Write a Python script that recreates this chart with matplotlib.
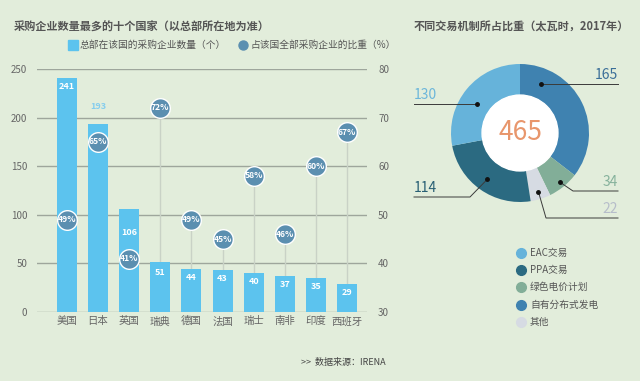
import matplotlib
matplotlib.use("Agg")
import matplotlib.pyplot as plt
from matplotlib.lines import Line2D
import numpy as np

plt.rcParams['font.family'] = ['Noto Sans CJK SC', 'DejaVu Sans']

# ---------------- data ----------------
countries = ['美国', '日本', '英国', '瑞典', '德国', '法国', '瑞士', '南非', '印度', '西班牙']
counts = [241, 193, 106, 51, 44, 43, 40, 37, 35, 29]
shares = [49, 65, 41, 72, 49, 45, 58, 46, 60, 67]
left_ticks = [0, 50, 100, 150, 200, 250]
right_ticks = [30, 40, 50, 60, 70, 80]

mech_names = ['自有分布式发电', '绿色电价计划', '其他', 'PPA交易', 'EAC交易']
mech_values = [165, 34, 22, 114, 130]
legend_order = ['EAC交易', 'PPA交易', '绿色电价计划', '自有分布式发电', '其他']

# ---------------- style ----------------
BG = '#e2eddb'
BAR = '#5cc3ee'
DOT = '#5b8fb0'
GRID = '#9ea69c'
TXT = '#555555'
mech_colors = {'自有分布式发电': '#3f82b0', '绿色电价计划': '#82ae98', '其他': '#d6dbe3',
               'PPA交易': '#2b6a81', 'EAC交易': '#66b3da'}
mech_txt_colors = {'自有分布式发电': '#3a6e98', '绿色电价计划': '#86b29c', '其他': '#b6bdca',
                   'PPA交易': '#285f74', 'EAC交易': '#6cb6da'}

W, H = 640, 381
fig = plt.figure(figsize=(6.4, 3.81), dpi=100, facecolor=BG)

def fx(px):
    return px / W

def fy(py):
    return 1 - py / H

# ---------------- left chart ----------------
ax = fig.add_axes([fx(37), fy(312), fx(367) - fx(37), fy(69) - fy(312)])
ax.set_facecolor(BG)
for s in ax.spines.values():
    s.set_visible(False)

x = np.arange(len(countries))
ax.set_xlim(-0.96, len(countries) - 1 + 0.64)
ax.set_ylim(0, 250)

p2c = lambda p: (np.asarray(p) - 30) * 5.0
c2p = lambda c: np.asarray(c) / 5.0 + 30

ax.set_yticks(left_ticks)
ax.yaxis.grid(True, color=GRID, lw=1.0)
ax.set_axisbelow(True)
ax.tick_params(axis='y', length=0, pad=7, labelsize=7, labelcolor='#666666')
ax.tick_params(axis='x', length=0, pad=3, labelsize=7.5, labelcolor='#666666')
ax.set_xticks(x)
ax.set_xticklabels(countries)

sec = ax.secondary_yaxis('right', functions=(c2p, p2c))
sec.set_yticks(right_ticks)
sec.tick_params(length=0, pad=8, labelsize=7, labelcolor='#666666')
for s in sec.spines.values():
    s.set_visible(False)

# connector lines
ax.vlines(x, 0, p2c(shares), color='#c9d2c6', lw=1.0, zorder=1)
# bars
ax.bar(x, counts, width=0.64, color=BAR, zorder=2)
# circles
ax.scatter(x, p2c(shares), s=200, color=DOT, edgecolors='white', linewidths=1.0, zorder=4)
for xi, p in zip(x, shares):
    ax.text(xi, p2c(p), f'{p}%', color='white', fontsize=6.2, ha='center', va='center',
            fontweight='bold', zorder=5)

label_offsets = [-6, 13, -17, -7, -6, -6, -6, -6, -6, -6]
for xi, c, off in zip(x, counts, label_offsets):
    col = '#84cdee' if off > 0 else 'white'
    ax.annotate(str(c), (xi, c), xytext=(0, off), textcoords='offset points',
                ha='center', va='center', fontsize=6.5, color=col, fontweight='bold', zorder=5)

# titles / legend for left chart
fig.text(fx(14), fy(27), '采购企业数量最多的十个国家（以总部所在地为准）', fontsize=8,
         fontweight='bold', color='#555555', va='center', ha='left')
fig.add_artist(Line2D([fx(72.5)], [fy(45)], marker='s', markersize=7, color=BAR, lw=0))
fig.text(fx(80), fy(45), '总部在该国的采购企业数量（个）', fontsize=7, color=TXT, va='center')
fig.add_artist(Line2D([fx(243)], [fy(45)], marker='o', markersize=6.5, color=DOT, lw=0))
fig.text(fx(250), fy(45), '占该国全部采购企业的比重（%）', fontsize=7, color=TXT, va='center')

fig.text(fx(386), fy(362), '>>  数据来源：IRENA', fontsize=6.5, color='#444444',
         ha='right', va='center')

# ---------------- donut ----------------
R = 69.0
cx, cy = 520, 133
half = 110
dax = fig.add_axes([fx(cx - half), fy(cy + half), 2 * half / W, 2 * half / H])
dax.axis('off')

wedges, _ = dax.pie(mech_values, colors=[mech_colors[n] for n in mech_names],
                    startangle=90, counterclock=False, radius=1.0,
                    wedgeprops=dict(width=0.45, edgecolor='none'))
dax.set_xlim(-half / R, half / R)
dax.set_ylim(-half / R, half / R)
dax.set_aspect('equal')
dax.add_patch(plt.Circle((0, 0), 0.55, color='white', zorder=3))
dax.text(0, 0, str(sum(mech_values)), fontsize=19, color='#e8966c', ha='center',
         va='center', zorder=4)

# label anchors: fraction along the wedge, radius, elbow / end in px
anchor_frac = [0.18, 0.5, 0.5, 0.5, 0.44]
anchor_r = [0.77, 0.92, 0.89, 0.82, 0.75]
elbows = [None, (573, 191), (546, 218), (470, 197), None]
ends_x = [618, 618, 618, 414, 414]

def px2d(px, py):
    return ((px - cx) / R, (cy - py) / R)

for w, name, v, fr, rr, el, ex in zip(wedges, mech_names, mech_values, anchor_frac,
                                       anchor_r, elbows, ends_x):
    t1, t2 = w.theta1, w.theta2
    ang = np.deg2rad(t2 - fr * (t2 - t1))
    ax0, ay0 = rr * np.cos(ang), rr * np.sin(ang)
    pts = [(ax0, ay0)]
    if el is not None:
        pts.append(px2d(*el))
    ly = pts[-1][1]
    ex_d = (ex - cx) / R
    pts.append((ex_d, ly))
    xs, ys = zip(*pts)
    dax.plot(xs, ys, color='#3a3a3a', lw=0.7, zorder=5, clip_on=False)
    dax.plot([ax0], [ay0], 'o', color='#111111', ms=2.5, zorder=6)
    ha = 'right' if ex > cx else 'left'
    dax.text(ex_d, ly + 0.03, str(v), fontsize=10, color=mech_txt_colors[name],
             ha=ha, va='bottom', zorder=6)

fig.text(fx(414), fy(27), '不同交易机制所占比重（太瓦时，2017年）', fontsize=8,
         fontweight='bold', color='#555555', va='center', ha='left')

# legend for donut
for i, name in enumerate(legend_order):
    yy = 253 + i * 17.2
    fig.add_artist(Line2D([fx(521)], [fy(yy)], marker='o', markersize=7,
                          color=mech_colors[name], lw=0))
    fig.text(fx(530), fy(yy), name, fontsize=7, color=TXT, va='center', ha='left')

fig.savefig('out.png', dpi=100, facecolor=BG)
